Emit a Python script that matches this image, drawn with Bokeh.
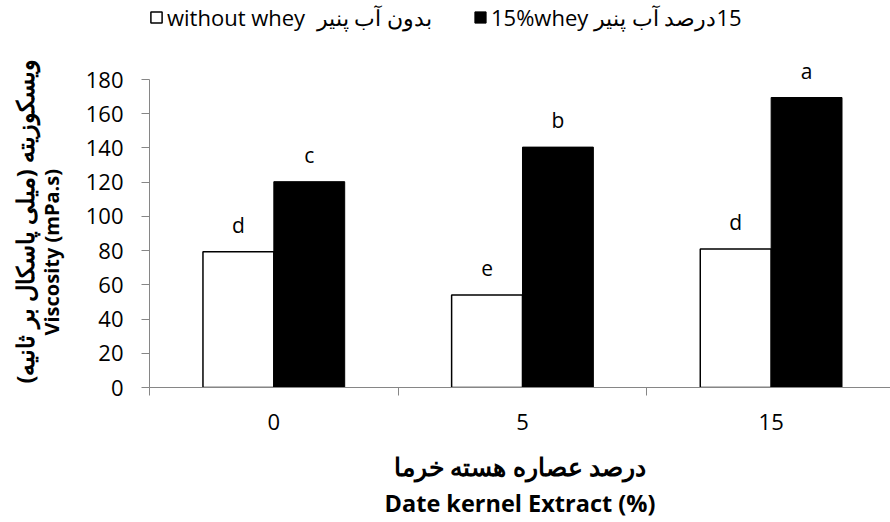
import numpy as np
from bokeh.plotting import figure
from bokeh.models import (Range1d, FixedTicker, LinearAxis, Legend, LegendItem,
                          LabelSet, ColumnDataSource, Title)
from bokeh.core.properties import value
from bokeh.embed import file_html
from bokeh.resources import INLINE

# ---------------- data ----------------
categories = ["0", "5", "15"]
without_whey = [79.3, 54.0, 80.9]
with_whey = [120.3, 140.5, 169.5]
letters_without = ["d", "e", "d"]
letters_with = ["c", "b", "a"]
y_ticks = [0, 20, 40, 60, 80, 100, 120, 140, 160, 180]

legend_without = "without whey\u00a0 بدون آب پنیر"
legend_with = "15%whey \u200f15درصد آب پنیر"
x_title_fa = "درصد عصاره هسته خرما"
x_title_en = "Date kernel Extract (%)"
y_title_fa = "ویسکوزیته (میلی پاسکال بر ثانیه)\u200f"
y_title_en = "Viscosity (mPa.s)"

# ---------------- style ----------------
FONT = "Open Sans"
AXIS_GRAY = "#868686"
BAR_W = 0.285
Y_AXIS_MAX = 180
Y_VIEW_MAX = 226.2   # headroom so the frame reaches the top (legend / letters)
X_VIEW = (0, 2.98)

n = len(categories)
xpos = np.arange(n) + 0.5
x_left = xpos - BAR_W / 2
x_right = xpos + BAR_W / 2

p = figure(width=890, height=522,
           x_range=Range1d(*X_VIEW), y_range=Range1d(0, Y_VIEW_MAX),
           output_backend="svg", toolbar_location=None,
           min_border_left=149, min_border_right=0,
           min_border_top=0, min_border_bottom=135)
p.xgrid.visible = False
p.ygrid.visible = False
p.outline_line_color = None
p.background_fill_color = "white"

r1 = p.vbar(x=x_left, top=without_whey, width=BAR_W, bottom=0,
            fill_color="white", line_color="black", line_width=1.5)
r2 = p.vbar(x=x_right, top=with_whey, width=BAR_W, bottom=0,
            fill_color="black", line_color="black", line_width=1)

src_a = ColumnDataSource(dict(x=x_left, y=without_whey, t=letters_without))
src_b = ColumnDataSource(dict(x=x_right, y=with_whey, t=letters_with))
for src in (src_a, src_b):
    p.add_layout(LabelSet(x="x", y="y", text="t", source=src, y_offset=27,
                          text_align="center", text_baseline="middle",
                          text_font=value(FONT), text_font_size=value("21px"),
                          text_color=value("black")))

# x axis (main)
xa = p.xaxis[0]
xa.ticker = FixedTicker(ticks=list(xpos), minor_ticks=list(range(n + 1)))
xa.major_label_overrides = {float(xv): c for xv, c in zip(xpos, categories)}
xa.major_tick_out = 0
xa.major_tick_in = 0
xa.minor_tick_out = 8
xa.minor_tick_in = 0
xa.minor_tick_line_color = AXIS_GRAY
xa.axis_line_color = AXIS_GRAY
xa.major_label_standoff = 18
xa.major_label_text_font = FONT
xa.major_label_text_font_size = "22px"
xa.major_label_text_color = "black"
xa.axis_label = x_title_fa
xa.axis_label_text_font = FONT
xa.axis_label_text_font_size = "24.5px"
xa.axis_label_text_font_style = "bold"
xa.axis_label_text_color = "black"
xa.axis_label_standoff = 17

xa2 = LinearAxis(ticker=FixedTicker(ticks=[]), axis_label=x_title_en,
                 axis_line_color=None, major_tick_out=0, minor_tick_out=0,
                 axis_label_standoff=1, axis_label_text_font=FONT,
                 axis_label_text_font_size="23.5px",
                 axis_label_text_font_style="bold",
                 axis_label_text_color="black")
p.add_layout(xa2, "below")

# y axis
ya = p.yaxis[0]
ya.bounds = (0, Y_AXIS_MAX)
ya.ticker = FixedTicker(ticks=y_ticks)
ya.major_tick_out = 8
ya.major_tick_in = 0
ya.minor_tick_out = 0
ya.minor_tick_in = 0
ya.major_tick_line_color = AXIS_GRAY
ya.axis_line_color = AXIS_GRAY
ya.major_label_standoff = 18
ya.major_label_text_font = FONT
ya.major_label_text_font_size = "22px"
ya.major_label_text_color = "black"

# y titles: start (bottom end) placed by offset from the frame bottom
t_en = Title(text=y_title_en, align="left", offset=52, standoff=36,
             text_font=FONT, text_font_size="20px", text_font_style="bold",
             text_color="black")
p.add_layout(t_en, "left")
t_fa = Title(text=y_title_fa, align="left", offset=4, standoff=-46,
             text_font=FONT, text_font_size="23.5px", text_font_style="bold",
             text_color="black")
p.add_layout(t_fa, "left")

legend = Legend(items=[LegendItem(label=legend_without, renderers=[r1]),
                       LegendItem(label=legend_with, renderers=[r2])],
                orientation="horizontal", location=(0, 355),
                border_line_color=None, background_fill_alpha=0,
                glyph_width=14, glyph_height=14, label_standoff=4,
                spacing=41, padding=0, margin=0,
                label_text_font=FONT, label_text_font_size="22px",
                label_text_color="black")
p.add_layout(legend, "center")

open("out.html", "w").write(file_html(p, INLINE))
